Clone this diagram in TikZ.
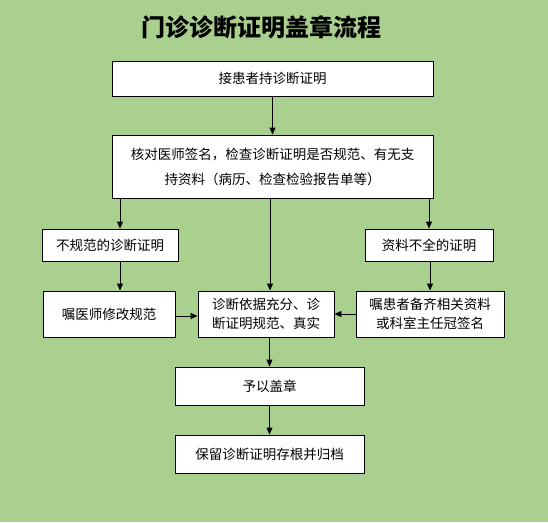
\documentclass[tikz,border=0pt]{standalone}
\usepackage{fontspec}
\setmainfont{Noto Sans CJK SC}
\usetikzlibrary{arrows.meta}
\definecolor{bgGreen}{RGB}{169,208,142}

\begin{document}
\begin{tikzpicture}
[x=1pt,y=-1pt,
  titleDecorate/.style={font=\fontsize{24}{28}\selectfont\bfseries},%
  boxDecorate/.style={shape=rectangle,draw,fill=white,line width=0.9pt,
    align=center,inner sep=2pt,font=\fontsize{13.5}{19}\selectfont},%
  arrowDecorate/.style={-{Triangle[length=7pt,width=6pt]},line width=0.9pt}]
%% background and title
\fill[bgGreen] (0,0) rectangle (548,522);
\useasboundingbox (0,0) rectangle (548,522);
\node (title) at (261,27) [titleDecorate] {门诊诊断证明盖章流程};
%% boxes
\foreach \nodename/\x/\y/\w/\h/\txt in {
  receive/272.5/78.5/321/35/{接患者持诊断证明},
  check/272.5/166.5/321/63/{核对医师签名，检查诊断证明是否规范、有无支\\[6pt]持资料（病历、检查检验报告单等）},
  nonstd/110/245/136/32/{不规范的诊断证明},
  lacking/429/245/128/32/{资料不全的证明},
  docfix/109/314/132/46/{嘱医师修改规范},
  valid/266/314/136/46/{诊断依据充分、诊\\断证明规范、真实},
  patfix/430/314/148/46/{嘱患者备齐相关资料\\或科室主任冠签名},
  stamp/269.5/386/189/38/{予以盖章},
  archive/269.5/454/189/38/{保留诊断证明存根并归档}} {
  \node (\nodename) at (\x,\y) [boxDecorate,minimum width=\w pt,minimum height=\h pt] {\txt};
}
%% guide lines for the arrows that are off centre
\coordinate (leftline) at (120,0);
\coordinate (midline) at (270,0);
%% arrows
\draw[arrowDecorate] (receive) -- (check);
\draw[arrowDecorate] (check.south -| leftline) -- (nonstd.north -| leftline);
\draw[arrowDecorate] (nonstd.south -| leftline) -- (docfix.north -| leftline);
\draw[arrowDecorate] (check.south -| midline) -- (valid.north -| midline);
\draw[arrowDecorate] (check.south -| lacking.north) -- (lacking.north);
\draw[arrowDecorate] (lacking.south -| patfix.north) -- (patfix.north);
\draw[arrowDecorate] ([yshift=-2pt]docfix.east) -- ([yshift=-2pt]valid.west);
\draw[arrowDecorate] (patfix.west) -- (valid.east);
\draw[arrowDecorate] (valid.south -| stamp.north) -- (stamp.north);
\draw[arrowDecorate] (stamp) -- (archive);
\end{tikzpicture}
\end{document}
